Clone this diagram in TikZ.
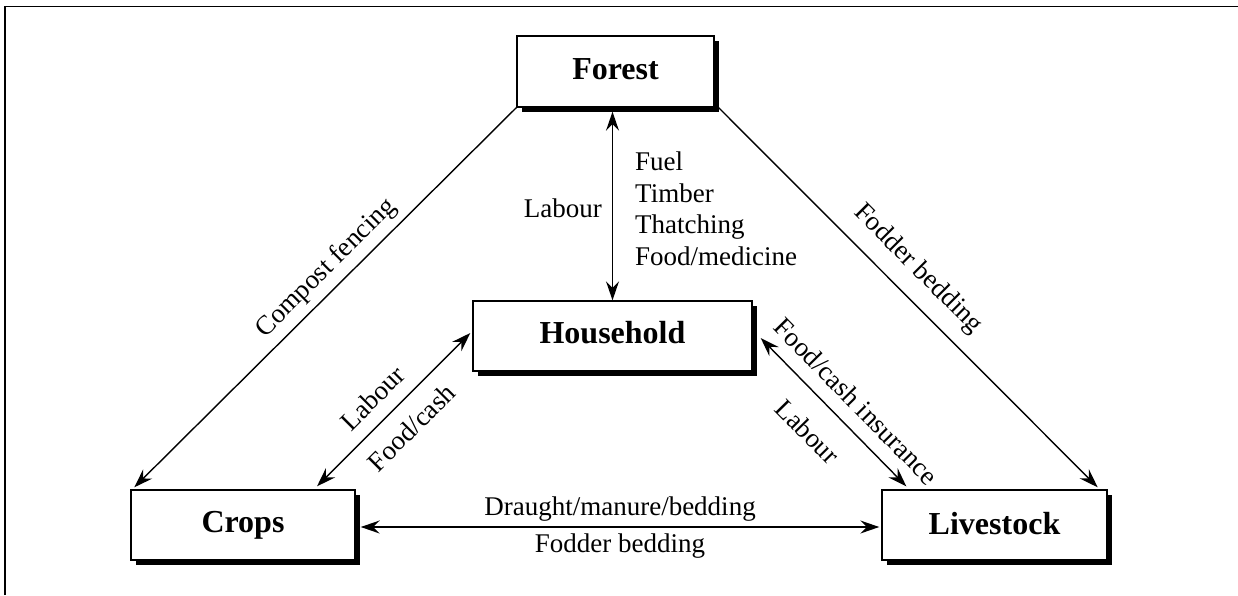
\documentclass[tikz,border=0pt]{standalone}
\usepackage{fontspec}
\setmainfont{Liberation Serif}
\usetikzlibrary{arrows.meta,shadows,calc}
\begin{document}
\begin{tikzpicture}[x=1pt,y=-1pt,
  box/.style={draw=black, line width=1.4pt, fill=white, inner sep=0pt,
    text height=22pt, text depth=7pt,
    font=\fontsize{32}{38}\selectfont\bfseries,
    drop shadow={shadow xshift=4.5pt, shadow yshift=-4.5pt, fill=black, opacity=1}},
  both/.style={line width=1.4pt, {Stealth[length=19pt,width=13pt,inset=6.5pt]}-{Stealth[length=19pt,width=13pt,inset=6.5pt]}},
  one/.style={line width=1.4pt, -{Stealth[length=19pt,width=13pt,inset=6.5pt]}},
  lbl/.style={font=\fontsize{27}{31.5}\selectfont, inner sep=0pt}]
\useasboundingbox (0,0) rectangle (1238,595);
\draw[line width=1.8pt] (5,595) -- (5,6.5) -- (1238,6.5);

\node[box, minimum width=197pt, minimum height=71pt] (forest) at (615.5,71.5) {Forest};
\node[box, minimum width=279pt, minimum height=70pt] (household) at (612.5,336) {Household};
\node[box, minimum width=224pt, minimum height=70pt] (crops) at (243,525) {Crops};
\node[box, minimum width=225pt, minimum height=70pt] (livestock) at (994.5,525) {\raisebox{-2pt}{Livestock}};

% Forest <-> Household
\draw[both] ($(forest.south -| household.north)+(0,4)$) -- (household.north);
\node[lbl, anchor=base east] (labF) at (602,217) {Labour};
\node[lbl, anchor=north west, align=left] (prods) at (635,151.6) {Fuel\\Timber\\Thatching\\Food/medicine};

% Forest -> Crops
\draw[one] (forest.south west) -- node[lbl, sloped, pos=0.46, yshift=20pt] (lcomp) {Compost fencing} ([xshift=4pt,yshift=2pt]crops.north west);
% Forest -> Livestock
\draw[one] ([xshift=4pt]forest.south east) -- node[lbl, sloped, pos=0.475, yshift=27pt] (lfod) {Fodder bedding} ([xshift=-10pt,yshift=2pt]livestock.north east);

% Crops <-> Household
\draw[both] ([xshift=74pt,yshift=3pt]crops.north) -- node[lbl, sloped, pos=0.47, yshift=23pt] (labC) {Labour} node[lbl, sloped, pos=0.5, yshift=-25pt] (foodC) {Food/cash} ([xshift=-2pt,yshift=3pt]household.west);

% Household <-> Livestock
\draw[both] ([xshift=8pt,yshift=-2pt]household.east) -- node[lbl, sloped, pos=0.54, yshift=24pt] (foodL) {Food/cash insurance} node[lbl, sloped, pos=0.48, yshift=-32pt] (labL) {Labour} ([xshift=25pt,yshift=3pt]livestock.north west);

% Crops <-> Livestock
\draw[both] ([xshift=5pt,yshift=-2pt]crops.east) -- node[lbl, anchor=base, pos=0.5, yshift=12pt] (draught) {Draught/manure/bedding} node[lbl, anchor=base, pos=0.5, yshift=-25pt] (fodder) {Fodder bedding} ([xshift=-2pt,yshift=-2pt]livestock.west);
\end{tikzpicture}
\end{document}
